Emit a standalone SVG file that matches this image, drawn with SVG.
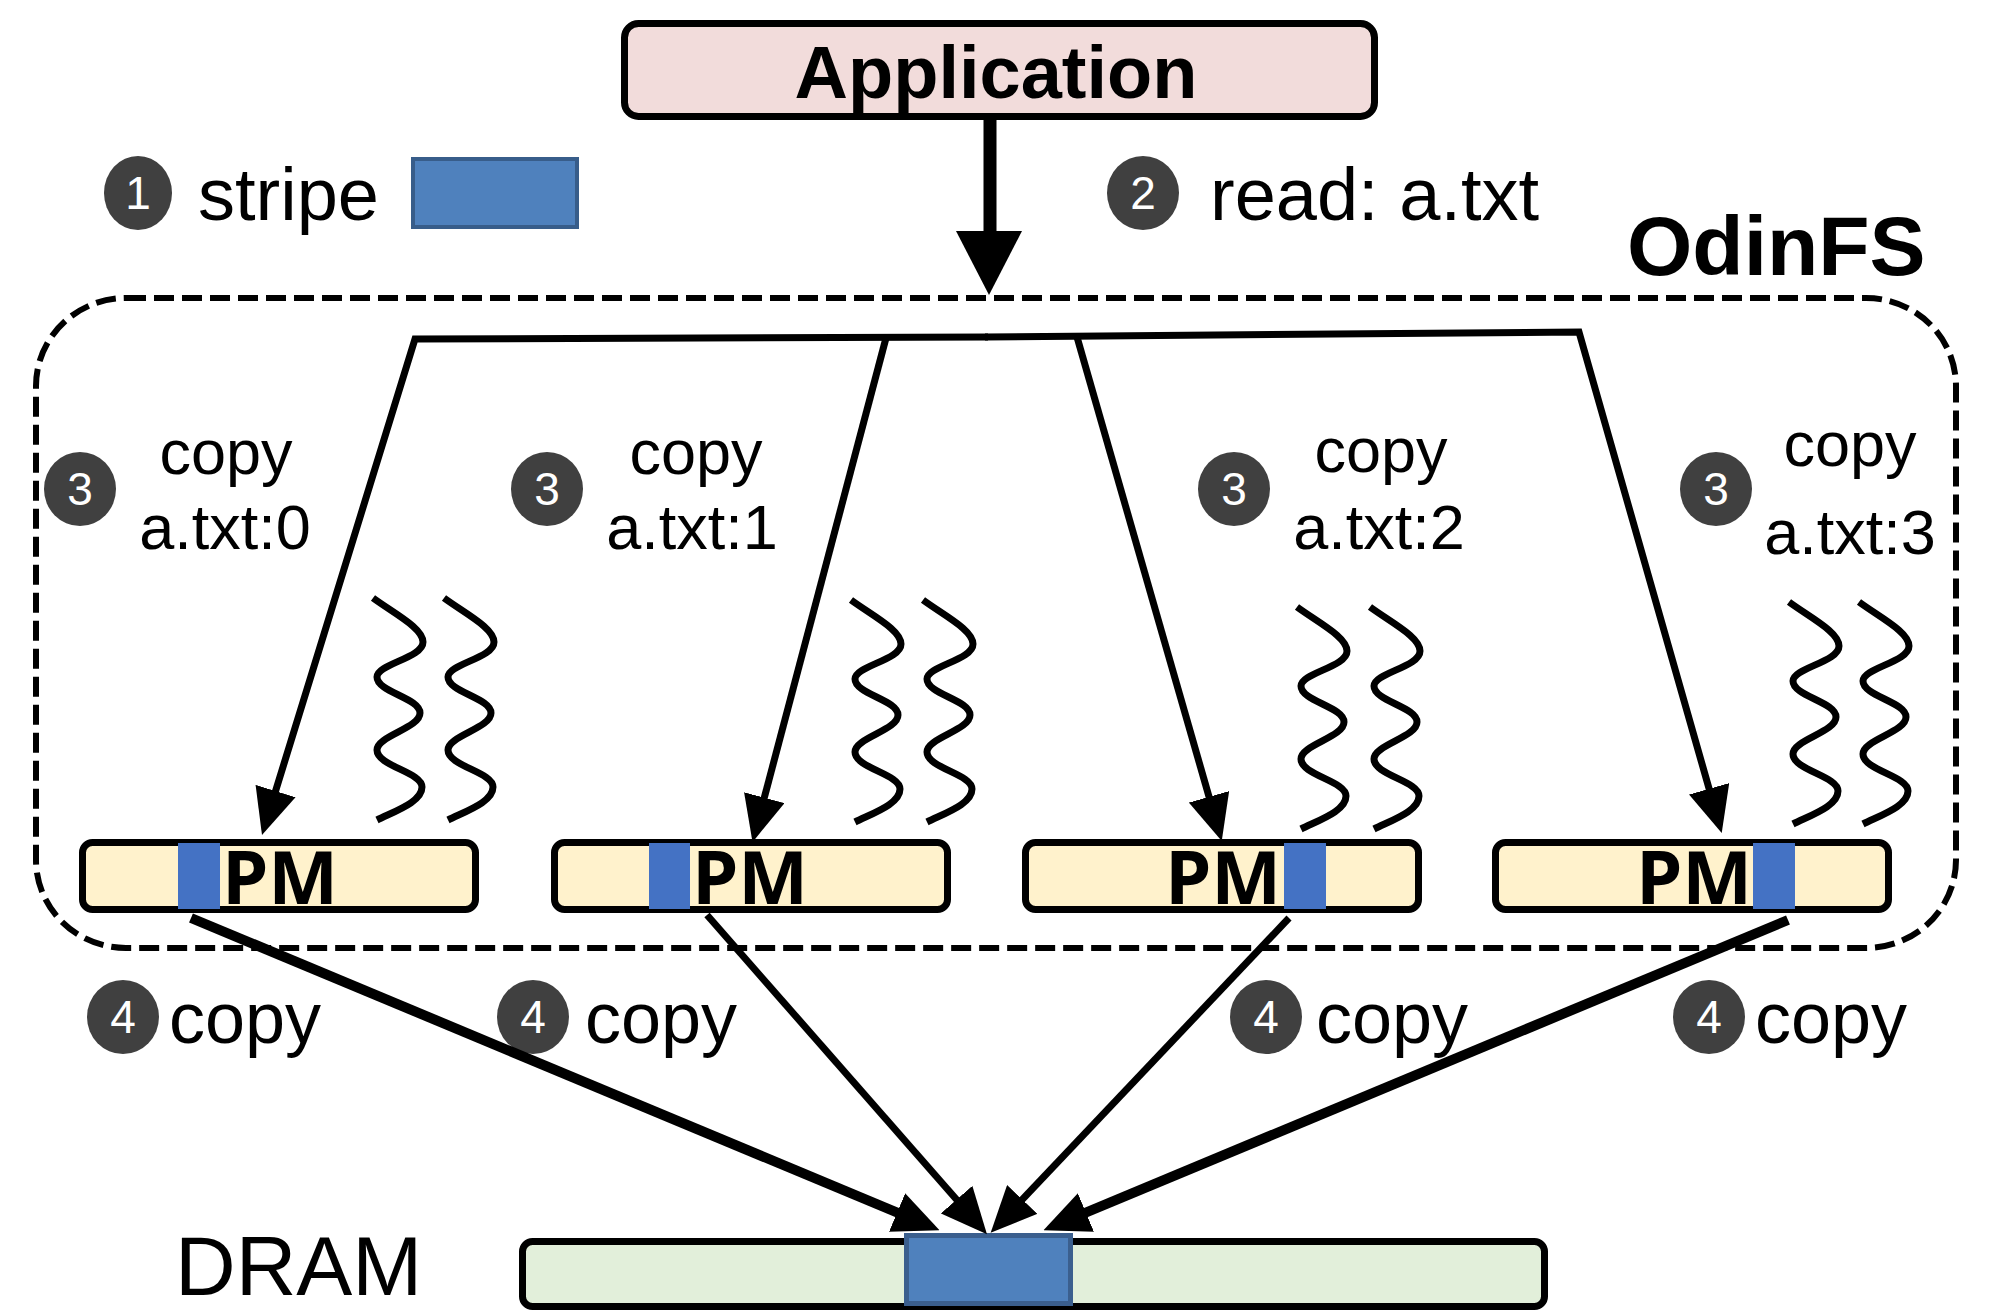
<svg xmlns="http://www.w3.org/2000/svg" width="1996" height="1310" viewBox="0 0 1996 1310">
<style>
.t{font-family:"Liberation Sans",Arial,sans-serif;fill:#000}
.b{font-weight:bold}
.num{font-family:"Liberation Sans Narrow","Liberation Sans",Arial,sans-serif;font-size:46px;fill:#fff;text-anchor:middle}
.badge{fill:#404040}
.pm{fill:#FFF2CC;stroke:#000;stroke-width:7}
.pmt{font-family:"Open Sans","Liberation Sans",sans-serif;font-weight:bold;font-size:74px;text-anchor:middle;fill:#000}
.stripe{fill:#4472C4}
.wave{fill:none;stroke:#000;stroke-width:7;stroke-linecap:butt}
.conn{fill:none;stroke:#000;stroke-linejoin:miter}
.thin{stroke-width:7}
.thick{stroke-width:10}
</style>
<defs>
<marker id="ah" markerUnits="userSpaceOnUse" markerWidth="46" markerHeight="42" viewBox="0 0 44 40" refX="31" refY="20" orient="auto">
<path d="M0,0 L44,20 L0,40 z" fill="#000"/>
</marker>
<path id="wv" d="M0,0 C22,16 50,30 50,44 C50,60 4,66 4,79 C4,94 47,100 47,115 C47,130 4,138 4,152 C4,168 49,174 49,189 C49,204 22,213 4,222"/>
</defs>

<g id="odinfs">
<rect x="36" y="298" width="1920" height="650" rx="90" ry="88" fill="none" stroke="#000" stroke-width="6" stroke-dasharray="20 8"/>
<text class="t b" x="1627" y="275" font-size="84">OdinFS</text>
</g>

<g id="application">
<rect x="624.5" y="23.5" width="750" height="93" rx="14" fill="#F2DCDB" stroke="#000" stroke-width="7"/>
<text class="t b" x="996" y="98" font-size="74" text-anchor="middle">Application</text>
</g>

<g id="legend-stripe">
<ellipse class="badge" cx="138" cy="193" rx="34" ry="37"/>
<text class="num" x="138" y="209">1</text>
<text class="t" x="198" y="220" font-size="74">stripe</text>
<rect x="413" y="159" width="164" height="68" fill="#4F81BD" stroke="#385D8A" stroke-width="4"/>
</g>

<g id="label-read">
<ellipse class="badge" cx="1143" cy="193" rx="36" ry="37"/>
<text class="num" x="1143" y="209">2</text>
<text class="t" x="1210" y="220" font-size="74">read: a.txt</text>
</g>

<g id="label-copy3-0">
<ellipse class="badge" cx="80" cy="489" rx="36" ry="37"/>
<text class="num" x="80" y="505">3</text>
<text class="t" x="226" y="474" font-size="63" text-anchor="middle">copy</text>
<text class="t" x="225" y="549" font-size="63" text-anchor="middle">a.txt:0</text>
</g>
<g id="label-copy3-1">
<ellipse class="badge" cx="547" cy="489" rx="36" ry="37"/>
<text class="num" x="547" y="505">3</text>
<text class="t" x="696" y="474" font-size="63" text-anchor="middle">copy</text>
<text class="t" x="692" y="549" font-size="63" text-anchor="middle">a.txt:1</text>
</g>
<g id="label-copy3-2">
<ellipse class="badge" cx="1234" cy="489" rx="36" ry="37"/>
<text class="num" x="1234" y="505">3</text>
<text class="t" x="1381" y="472" font-size="63" text-anchor="middle">copy</text>
<text class="t" x="1379" y="549" font-size="63" text-anchor="middle">a.txt:2</text>
</g>
<g id="label-copy3-3">
<ellipse class="badge" cx="1716" cy="489" rx="36" ry="37"/>
<text class="num" x="1716" y="505">3</text>
<text class="t" x="1850" y="466" font-size="63" text-anchor="middle">copy</text>
<text class="t" x="1850" y="554" font-size="63" text-anchor="middle">a.txt:3</text>
</g>

<g id="threads">
<use href="#wv" class="wave" x="373" y="598"/>
<use href="#wv" class="wave" x="444" y="598"/>
<use href="#wv" class="wave" x="851" y="600"/>
<use href="#wv" class="wave" x="923" y="600"/>
<use href="#wv" class="wave" x="1297" y="607"/>
<use href="#wv" class="wave" x="1370" y="607"/>
<use href="#wv" class="wave" x="1789" y="602"/>
<use href="#wv" class="wave" x="1859" y="602"/>
</g>

<g id="pm0">
<rect class="pm" x="82.5" y="842.5" width="393" height="67" rx="10"/>
<rect class="stripe" x="178" y="843" width="42" height="66"/>
<text class="pmt" x="280" y="904">PM</text>
</g>
<g id="pm1">
<rect class="pm" x="554.5" y="842.5" width="393" height="67" rx="10"/>
<rect class="stripe" x="649" y="843" width="41" height="66"/>
<text class="pmt" x="750" y="904">PM</text>
</g>
<g id="pm2">
<rect class="pm" x="1025.5" y="842.5" width="393" height="67" rx="10"/>
<rect class="stripe" x="1284" y="843" width="42" height="66"/>
<text class="pmt" x="1223" y="904">PM</text>
</g>
<g id="pm3">
<rect class="pm" x="1495.5" y="842.5" width="393" height="67" rx="10"/>
<rect class="stripe" x="1753" y="843" width="42" height="66"/>
<text class="pmt" x="1694" y="904">PM</text>
</g>

<g id="label-copy4">
<ellipse class="badge" cx="123" cy="1017" rx="36" ry="37"/>
<text class="num" x="123" y="1033">4</text>
<text class="t" x="169" y="1043" font-size="72">copy</text>
<ellipse class="badge" cx="533" cy="1017" rx="36" ry="37"/>
<text class="num" x="533" y="1033">4</text>
<text class="t" x="585" y="1043" font-size="72">copy</text>
<ellipse class="badge" cx="1266" cy="1017" rx="36" ry="37"/>
<text class="num" x="1266" y="1033">4</text>
<text class="t" x="1316" y="1043" font-size="72">copy</text>
<ellipse class="badge" cx="1709" cy="1017" rx="36" ry="37"/>
<text class="num" x="1709" y="1033">4</text>
<text class="t" x="1755" y="1043" font-size="72">copy</text>
</g>

<g id="dram">
<text class="t" x="175" y="1295" font-size="84">DRAM</text>
<rect x="522.5" y="1241.5" width="1022" height="65" rx="10" fill="#E2EFDA" stroke="#000" stroke-width="7"/>
<rect x="906.5" y="1235.5" width="164" height="68" fill="#4F81BD" stroke="#3B5F8E" stroke-width="5"/>
</g>

<g id="connectors">
<line x1="990" y1="117" x2="990" y2="236" stroke="#000" stroke-width="13"/>
<polygon points="956,231 1022,231 989,295" fill="#000"/>
<path class="conn thin" d="M988,337 L415,339 L266,822" marker-end="url(#ah)"/>
<path class="conn thin" d="M985,337 L1579,332 L1718,820" marker-end="url(#ah)"/>
<path class="conn thin" d="M886,338 L756,829" marker-end="url(#ah)"/>
<path class="conn thin" d="M1077,337 L1218,828" marker-end="url(#ah)"/>
<path class="conn thick" d="M191,918 L927,1225" marker-end="url(#ah)"/>
<path class="conn thin" d="M707,915 L978,1224" marker-end="url(#ah)"/>
<path class="conn thin" d="M1289,918 L1000,1223" marker-end="url(#ah)"/>
<path class="conn thick" d="M1788,920 L1056,1225" marker-end="url(#ah)"/>
</g>
</svg>
